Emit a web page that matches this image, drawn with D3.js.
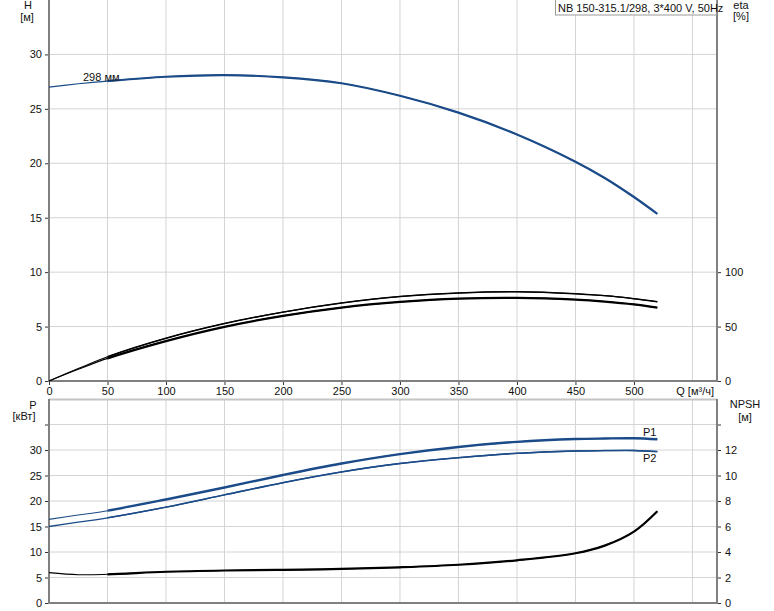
<!DOCTYPE html>
<html><head><meta charset="utf-8">
<script src="https://cdn.jsdelivr.net/npm/d3@7"></script>
<style>
body{margin:0;background:#fff;}
svg{display:block;font-family:"Liberation Sans",Arial,sans-serif;font-size:11px;}
</style></head>
<body><svg id="c" width="774" height="611"></svg>
<script>
// ---- data ----
const q        = [0, 25, 50, 100, 150, 200, 250, 300, 350, 400, 450, 475, 500, 520];
const head     = [27.0, 27.3, 27.55, 27.95, 28.1, 27.9, 27.35, 26.2, 24.65, 22.65, 20.15, 18.65, 16.9, 15.35];
const etaUpper = [0, 11.4, 22.3, 39.3, 52.8, 63.3, 71.6, 77.6, 80.9, 82.0, 80.2, 78.4, 75.6, 72.8];
const etaLower = [0, 10.7, 20.8, 36.7, 49.8, 59.8, 67.4, 72.6, 75.7, 76.4, 74.8, 73.0, 70.4, 67.4];
const p1       = [16.4, 17.25, 18.1, 20.3, 22.65, 25.1, 27.35, 29.2, 30.6, 31.6, 32.15, 32.25, 32.3, 32.1];
const p2       = [15.0, 15.85, 16.7, 18.8, 21.2, 23.6, 25.7, 27.35, 28.5, 29.35, 29.8, 29.88, 29.9, 29.7];
const npsh     = [2.38, 2.22, 2.25, 2.45, 2.55, 2.6, 2.67, 2.8, 3.0, 3.35, 3.9, 4.5, 5.6, 7.2];
const qTicks   = [0, 50, 100, 150, 200, 250, 300, 350, 400, 450, 500];
const qGrid    = [50, 100, 150, 200, 250, 300, 350, 400, 450, 500, 550];
const hTicks   = [0, 5, 10, 15, 20, 25, 30];
const etaTicks = [0, 50, 100];
const pTicks   = [0, 5, 10, 15, 20, 25, 30];
const pTickMarks = [0, 5, 10, 15, 20, 25, 30, 35];
const npshTicks = [0, 2, 4, 6, 8, 10, 12];
const npshTickMarks = [0, 2, 4, 6, 8, 10, 12, 14];
const title = "NB 150-315.1/298, 3*400 V, 50Hz";
const curveLabel = "298 мм";

// ---- layout ----
const L = 49, R = 717;
const topT = 0, topB = 381, botT = 399, botB = 603;
const svg = d3.select("#c");
const x = d3.scaleLinear().domain([0, 571]).range([L, R]);
const yH = d3.scaleLinear().domain([0, 35]).range([topB, topT]);
const yEta = d3.scaleLinear().domain([0, 350]).range([topB, topT]);
const yP = d3.scaleLinear().domain([0, 40]).range([botB, botT]);
const yN = d3.scaleLinear().domain([0, 16]).range([botB, botT]);

const gridC = "#d4d4d4", axisC = "#808080", blue = "#1b4b88";

// grids
const g = svg.append("g");
g.selectAll(".vg1").data(qGrid).join("line").attr("x1", d=>x(d)).attr("x2", d=>x(d))
  .attr("y1", topT).attr("y2", topB).attr("stroke", gridC);
g.selectAll(".vg2").data(qGrid).join("line").attr("x1", d=>x(d)).attr("x2", d=>x(d))
  .attr("y1", botT).attr("y2", botB).attr("stroke", gridC);
g.selectAll(".hg1").data(hTicks.slice(1)).join("line").attr("x1", L).attr("x2", R)
  .attr("y1", d=>yH(d)).attr("y2", d=>yH(d)).attr("stroke", gridC);
g.selectAll(".hg2").data(pTickMarks.slice(1)).join("line").attr("x1", L).attr("x2", R)
  .attr("y1", d=>yP(d)).attr("y2", d=>yP(d)).attr("stroke", gridC);
g.append("line").attr("x1", L).attr("x2", R).attr("y1", botT+0.5).attr("y2", botT+0.5)
  .attr("stroke", "#c4c4c4").attr("stroke-width", 2);

// axes
function styleAxis(sel){
  sel.select(".domain").remove();
  sel.selectAll(".tick line").attr("stroke", "#333");
  sel.selectAll(".tick text").attr("fill", "#111").style("font-size", "11px")
    .style("font-family", '"Liberation Sans",Arial,sans-serif');
}
svg.append("g").attr("transform", `translate(${L},0)`)
  .call(d3.axisLeft(yH).tickValues(hTicks).tickSize(4).tickPadding(3)).call(styleAxis);
svg.append("g").attr("transform", `translate(${R},0)`)
  .call(d3.axisRight(yEta).tickValues(etaTicks).tickSize(4).tickPadding(4)).call(styleAxis);
svg.append("g").attr("transform", `translate(0,${topB})`)
  .call(d3.axisBottom(x).tickValues(qTicks).tickSize(4).tickPadding(2)).call(styleAxis);
svg.append("g").attr("transform", `translate(${L},0)`)
  .call(d3.axisLeft(yP).tickValues(pTickMarks).tickFormat(d => pTicks.includes(d) ? d : "").tickSize(4).tickPadding(3)).call(styleAxis);
svg.append("g").attr("transform", `translate(${R},0)`)
  .call(d3.axisRight(yN).tickValues(npshTickMarks).tickFormat(d => npshTicks.includes(d) ? d : "").tickSize(4).tickPadding(4)).call(styleAxis);

// frames
const fr = svg.append("g").attr("stroke", axisC).attr("stroke-width", 2);
fr.append("line").attr("x1", L).attr("x2", L).attr("y1", topT).attr("y2", topB+1);
fr.append("line").attr("x1", L-1).attr("x2", R+1).attr("y1", topB).attr("y2", topB);
fr.append("line").attr("x1", R).attr("x2", R).attr("y1", topT).attr("y2", topB+1);
fr.append("line").attr("x1", L).attr("x2", L).attr("y1", botT).attr("y2", botB+1);
fr.append("line").attr("x1", L-1).attr("x2", R+1).attr("y1", botB).attr("y2", botB);
fr.append("line").attr("x1", R).attr("x2", R).attr("y1", botT).attr("y2", botB+1);

// clip for thick parts (Q >= 50)
const defs = svg.append("defs");
defs.append("clipPath").attr("id", "thick").append("rect")
  .attr("x", x(50)).attr("y", 0).attr("width", R - x(50)).attr("height", 611);

function curve(vals, ys){
  return d3.line().x((d,i)=>x(q[i])).y(d=>ys(d)).curve(d3.curveCatmullRom.alpha(0.5))(vals);
}
function draw(vals, ys, color, thin, thick){
  const d = curve(vals, ys);
  svg.append("path").attr("d", d).attr("fill", "none").attr("stroke", color).attr("stroke-width", thin);
  if (thick) svg.append("path").attr("d", d).attr("fill", "none").attr("stroke", color)
    .attr("stroke-width", thick).attr("clip-path", "url(#thick)");
}
draw(head, yH, blue, 1.1, 2.2);
draw(etaUpper, yEta, "#000", 1.1, 1.4);
draw(etaLower, yEta, "#000", 1.1, 2.3);
draw(p1, yP, blue, 1.1, 2.4);
draw(p2, yP, blue, 1.3, 1.5);
draw(npsh, yN, "#000", 1.1, 2.2);

// labels
const t = (txt, xx, yy, anchor) => svg.append("text").text(txt).attr("x", xx).attr("y", yy)
  .attr("text-anchor", anchor || "start").attr("fill", "#111");
t("H", 28, 9, "middle"); t("[м]", 27, 21, "middle");
t("eta", 741, 9, "middle"); t("[%]", 741, 20, "middle");
t("P", 33, 409, "middle"); t("[кВт]", 24, 420, "middle");
t("NPSH", 745, 408, "middle"); t("[м]", 745, 421, "middle");
t("Q [м³/ч]", 714, 395, "end");
t(curveLabel, 83, 81);
t("P1", 643, 436); t("P2", 643, 462);

// title box
svg.append("rect").attr("x", 555.5).attr("y", -1).attr("width", 161).attr("height", 16)
  .attr("fill", "#fff").attr("stroke", "#999");
t(title, 558, 12);
</script></body></html>
